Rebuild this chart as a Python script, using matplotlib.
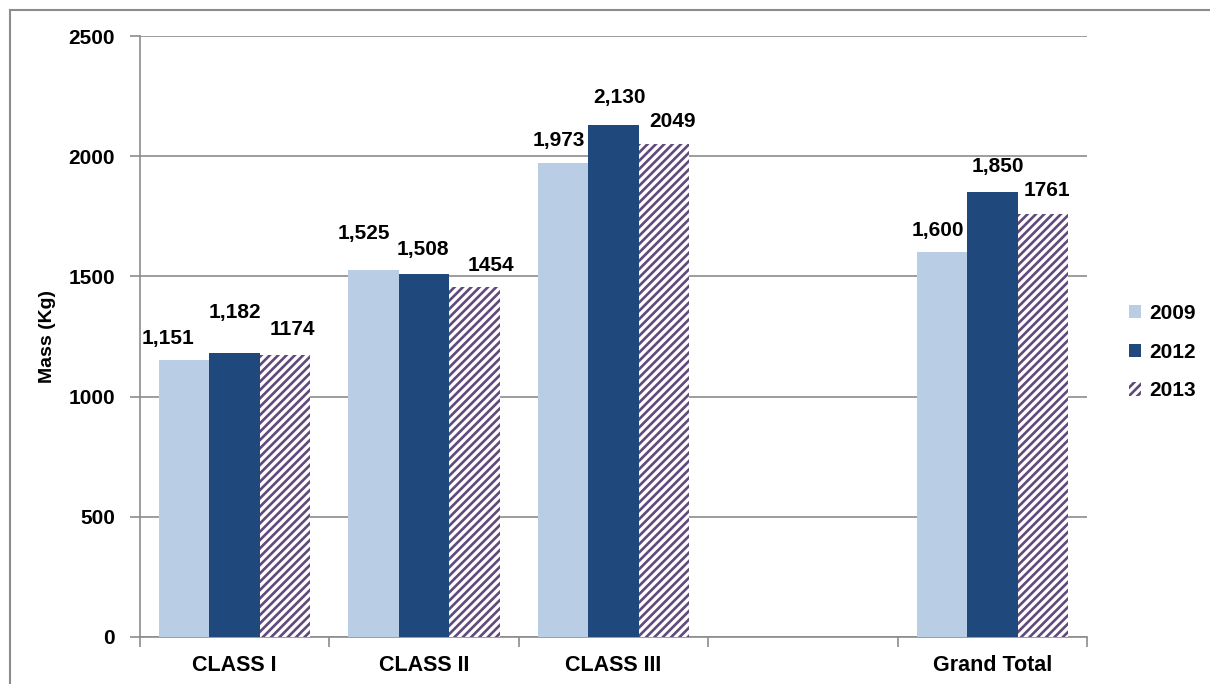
import matplotlib
matplotlib.use("Agg")
import matplotlib.pyplot as plt
from matplotlib.lines import Line2D
import numpy as np

# Mass by class and year
categories = ["CLASS I", "CLASS II", "CLASS III", "", "Grand Total"]
years = ["2009", "2012", "2013"]
mass_2009 = [1151, 1525, 1973, None, 1600]
mass_2012 = [1182, 1508, 2130, None, 1850]
mass_2013 = [1174, 1454, 2049, None, 1761]
yticks = [0, 500, 1000, 1500, 2000, 2500]

series = [mass_2009, mass_2012, mass_2013]
label_fmt = ["{:,.0f}", "{:,.0f}", "{:.0f}"]

# label nudges (points, dx/dy) so value labels sit clear of neighbours
nudges = [
    [(-12, 9), (-7, 20), (-3, 9), None, (-3, 9)],
    [(0, 22), (-1, 11), (4, 13), None, (4, 12)],
    [(5, 11), (12, 9), (6, 10), None, (3, 10)],
]

plt.rcParams["font.family"] = ["Liberation Sans", "DejaVu Sans"]
plt.rcParams["hatch.linewidth"] = 1.9

fig = plt.figure(figsize=(12.10, 6.84), dpi=100)
W, H = 1210, 684
ax = fig.add_axes([140 / W, 1 - 637 / H, (1087 - 140) / W, (637 - 36) / H])

light = "#B9CDE5"
dark = "#1F497D"
purple = "#604A7B"
grid_c = "#8C8C8C"

n = len(categories)
x = np.arange(n)
bw = 0.8 / 3

for i, (vals, fmt) in enumerate(zip(series, label_fmt)):
    xs = [x[j] - bw + i * bw for j in range(n) if vals[j] is not None]
    vs = [v for v in vals if v is not None]
    if i == 2:
        bars = ax.bar(xs, vs, width=bw, facecolor="white", edgecolor=purple,
                      hatch="////", linewidth=0, zorder=3)
    else:
        bars = ax.bar(xs, vs, width=bw, color=[light, dark][i], linewidth=0, zorder=3)
    k = 0
    for j in range(n):
        if vals[j] is None:
            continue
        b = bars[k]
        k += 1
        dx, dy = nudges[i][j]
        ax.annotate(fmt.format(vals[j]), (b.get_x() + b.get_width() / 2, b.get_height()),
                    xytext=(dx, dy), textcoords="offset points", ha="center", va="bottom",
                    fontsize=15, fontweight="bold", color="black", zorder=5)

ax.set_xlim(-0.5, n - 0.5)
ax.set_ylim(0, 2500)
ax.set_yticks(yticks)
ax.set_yticklabels([str(t) for t in yticks], fontsize=15, fontweight="bold")
ax.yaxis.grid(True, color=grid_c, linewidth=1.2, zorder=0)
ax.set_axisbelow(True)

ax.set_xticks(np.arange(-0.5, n, 1.0))
ax.set_xticklabels([])
ax.set_xticks(x, minor=True)
ax.set_xticklabels(categories, minor=True, fontsize=15.5, fontweight="bold")
ax.tick_params(axis="x", which="minor", length=0, pad=13)
ax.tick_params(axis="x", which="major", length=7, color=grid_c, width=1.2)
ax.tick_params(axis="y", length=7, color=grid_c, width=1.2, pad=11)

for s in ["top", "right"]:
    ax.spines[s].set_visible(False)
for s in ["left", "bottom"]:
    ax.spines[s].set_color(grid_c)
    ax.spines[s].set_linewidth(1.2)

ax.set_ylabel("Mass (Kg)", fontsize=14, fontweight="bold", labelpad=9)

handles = [
    plt.Rectangle((0, 0), 1, 1, facecolor=light, linewidth=0),
    plt.Rectangle((0, 0), 1, 1, facecolor=dark, linewidth=0),
    plt.Rectangle((0, 0), 1, 1, facecolor="white", edgecolor=purple, hatch="////", linewidth=0),
]
leg = fig.legend(handles, years, loc="center left", bbox_to_anchor=(1110 / W, 1 - 352 / H),
                 frameon=False, prop={"size": 15, "weight": "bold"},
                 handlelength=0.6, handleheight=0.6, handletextpad=0.4, labelspacing=0.95)

# outer frame (top and left edges visible)
fig.add_artist(Line2D([10 / W, 1.0], [1 - 10 / H, 1 - 10 / H], color="#8C8C8C", linewidth=1.5))
fig.add_artist(Line2D([10 / W, 10 / W], [0, 1 - 10 / H], color="#8C8C8C", linewidth=1.5))

fig.savefig("out.png", dpi=100)
